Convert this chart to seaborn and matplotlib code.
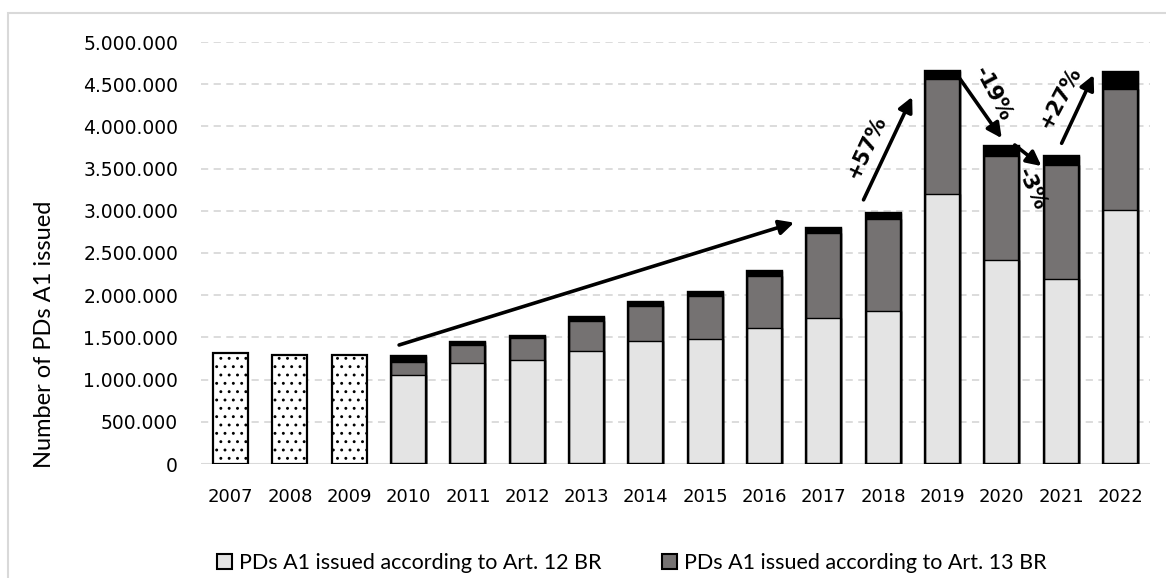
import numpy as np
import pandas as pd
import matplotlib
matplotlib.use('Agg')
import matplotlib.pyplot as plt
from matplotlib.patches import Rectangle
from matplotlib.ticker import FuncFormatter
import seaborn as sns

# Data
years = [str(y) for y in range(2007, 2023)]
early_years = ['2007', '2008', '2009']
early_total = [1310000, 1290000, 1290000]
split_years = [str(y) for y in range(2010, 2023)]
art12 = [1055000, 1197000, 1232000, 1340000, 1460000, 1480000, 1610000,
         1730000, 1810000, 3200000, 2420000, 2190000, 3010000]
art13 = [155000, 213000, 258000, 350000, 410000, 510000, 620000,
         1010000, 1090000, 1360000, 1230000, 1350000, 1430000]
other = [65000, 40000, 30000, 50000, 50000, 50000, 60000,
         60000, 70000, 100000, 120000, 110000, 210000]

label12 = 'PDs A1 issued according to Art. 12 BR'
label13 = 'PDs A1 issued according to Art. 13 BR'

# Growth arrows: (x0, y0, x1, y1, label, label_x, label_y, rotation)
arrows = [
    (2.84, 1410000, 9.5, 2860000, None, 0, 0, 0),
    (10.67, 3130000, 11.49, 4350000, '+57%', 10.72, 3760000, 65),
    (12.29, 4570000, 13.0, 3860000, '-19%', 12.86, 4380000, -62),
    (13.22, 3780000, 13.67, 3530000, '-3%', 13.5, 3250000, -65),
    (14.01, 3800000, 14.55, 4610000, '+27%', 13.99, 4340000, 62),
]

split = pd.DataFrame({'year': split_years, 'art12': art12, 'art13': art13, 'other': other})
split['top13'] = split['art12'] + split['art13']
split['total'] = split['top13'] + split['other']
early = pd.DataFrame({'year': early_years, 'total': early_total})

sns.set_style('white')
plt.rcParams['font.family'] = ['DejaVu Sans']
plt.rcParams['text.color'] = 'black'
plt.rcParams['axes.labelcolor'] = 'black'
plt.rcParams['xtick.color'] = 'black'
plt.rcParams['ytick.color'] = 'black'
plt.rcParams['hatch.linewidth'] = 0.9
plt.rcParams['hatch.color'] = 'black'

fig = plt.figure(figsize=(11.66, 5.78), dpi=100)
ax = fig.add_axes([201 / 1166, 1 - 464 / 578, 949 / 1166, 422 / 578])
renderer = fig.canvas.get_renderer()


def fit_size(text, family, target_px):
    # font size (pt) that makes the text about target_px wide
    t = fig.text(0, 0, text, fontsize=10, family=family)
    w = t.get_window_extent(renderer).width
    t.remove()
    return 10 * target_px / w


side_font = 'Lato'
ylab_size = fit_size('Number of PDs A1 issued', side_font, 268)
leg_size = fit_size(label12, side_font, 362)

bar_kw = dict(order=years, width=0.59, edgecolor='black', ax=ax)
sns.barplot(data=early, x='year', y='total', color='white', hatch='..', linewidth=1.6, **bar_kw)
sns.barplot(data=split, x='year', y='total', color='black', linewidth=1.0, **bar_kw)
sns.barplot(data=split, x='year', y='top13', color='#767171', label=label13, linewidth=1.0, **bar_kw)
sns.barplot(data=split, x='year', y='art12', color='#e4e4e4', label=label12, linewidth=1.0, **bar_kw)
# outer outline of the stacked bars
sns.barplot(data=split, x='year', y='total', fill=False, linewidth=1.7, **bar_kw)
for p in ax.patches:
    if p.get_hatch():
        p.set_facecolor('white')
        p.set_alpha(None)

ax.set_ylim(0, 5000000)
ax.set_xlim(-0.5, 15.5)
ax.set_yticks(np.arange(0, 5000001, 500000))
ax.yaxis.set_major_formatter(FuncFormatter(lambda v, _: f'{v:,.0f}'.replace(',', '.')))
ax.grid(axis='y', color='#d9d9d9', linestyle=(0, (4, 3)), linewidth=1.3)
ax.set_axisbelow(True)
for s in ax.spines.values():
    s.set_visible(False)
ax.axhline(0, color='#d9d9d9', linewidth=1.5, zorder=0.5)
ax.tick_params(axis='y', length=0, pad=16.5, labelsize=13.5)
ax.tick_params(axis='x', length=0, pad=17, labelsize=13)
ax.set_xlabel('')
ax.set_ylabel('Number of PDs A1 issued', fontsize=ylab_size, family=side_font)
ax.yaxis.set_label_coords((55 - 201) / 949, (464 - 334) / 422)

for x0, y0, x1, y1, lab, lx, ly, rot in arrows:
    ax.annotate('', xy=(x1, y1), xytext=(x0, y0),
                arrowprops=dict(arrowstyle='-|>', color='black', lw=2.6,
                                mutation_scale=22, shrinkA=0, shrinkB=0))
    if lab:
        ax.text(lx, ly, lab, rotation=rot, ha='center', va='center',
                fontsize=15, fontweight='bold', rotation_mode='anchor')

handles, labels = ax.get_legend_handles_labels()
order = [labels.index(label12), labels.index(label13)]
if ax.get_legend():
    ax.get_legend().remove()
em = leg_size * 100 / 72  # px per font-size unit
leg = fig.legend([handles[i] for i in order], [labels[i] for i in order],
                 loc='center', bbox_to_anchor=(632 / 1166, 1 - 563 / 578), ncol=2,
                 frameon=False, prop={'family': side_font, 'size': leg_size},
                 handlelength=15 / em, handleheight=15 / em,
                 handletextpad=7 / em, columnspacing=60 / em)
for h in leg.legend_handles:
    h.set_linewidth(1.5)

fig.patches.append(Rectangle((8 / 1166, -0.1), 1.2, 1.1 - 13 / 578,
                             transform=fig.transFigure, fill=False,
                             edgecolor='#d9d9d9', linewidth=1.5))

fig.savefig('out.png', dpi=100)
